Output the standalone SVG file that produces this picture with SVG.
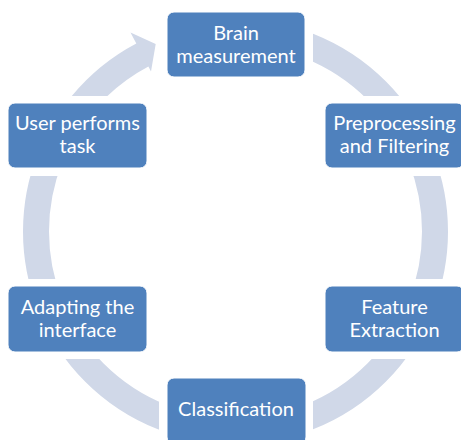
<svg xmlns="http://www.w3.org/2000/svg" width="461" height="440" viewBox="0 0 461 440">
<style>
.box{fill:#4F81BD;stroke:#FFFFFF;stroke-width:1}
.lbl{fill:#FFFFFF;font-family:Lato,"Liberation Sans",sans-serif;font-size:20px;text-anchor:middle}
.ring{fill:none;stroke:#D0D8E8;stroke-width:26}
.arr{fill:#D0D8E8}
</style>
<defs>
<mask id="gaps" maskUnits="userSpaceOnUse" x="0" y="0" width="461" height="440">
<rect x="0" y="0" width="461" height="440" fill="#fff"/>
<rect x="0" y="0" width="167" height="96" fill="#000"/>
<rect x="159" y="4" width="154" height="80" fill="#000"/>
<rect x="317" y="96" width="150" height="80" fill="#000"/>
<rect x="0" y="95" width="155" height="81" fill="#000"/>
<rect x="0" y="279" width="155" height="80" fill="#000"/>
<rect x="317" y="279" width="150" height="80" fill="#000"/>
<rect x="159" y="371" width="154" height="80" fill="#000"/>
</mask>
</defs>
<g id="connectors">
<circle class="ring" cx="235.5" cy="231.5" r="199.5" mask="url(#gaps)"/>
<path class="arr" d="M71.8,96 A212.5,212.5 0 0 1 136.3,43.5 L130.5,32.5 L155.7,44 L151,71.4 L148.4,66.5 A186.5,186.5 0 0 0 107.4,96 Z"/>
</g>
<g id="brain">
<rect class="box" x="167" y="12" width="138" height="65" rx="7"/>
<text class="lbl" x="236" y="39.5">Brain</text>
<text class="lbl" x="236" y="63">measurement</text>
</g>
<g id="preprocessing">
<rect class="box" x="325" y="103" width="139" height="65" rx="7"/>
<text class="lbl" x="394.5" y="129.5">Preprocessing</text>
<text class="lbl" x="394.5" y="153">and Filtering</text>
</g>
<g id="feature">
<rect class="box" x="325" y="286" width="139" height="66" rx="7"/>
<text class="lbl" x="394.5" y="313.5">Feature</text>
<text class="lbl" x="394.5" y="336.5">Extraction</text>
</g>
<g id="classification">
<rect class="box" x="167" y="378" width="139" height="66" rx="7"/>
<text class="lbl" x="236" y="416">Classification</text>
</g>
<g id="adapting">
<rect class="box" x="8" y="286" width="139" height="66" rx="7"/>
<text class="lbl" x="77.5" y="313.5">Adapting the</text>
<text class="lbl" x="77.5" y="336.5">interface</text>
</g>
<g id="user">
<rect class="box" x="8" y="103" width="139" height="65" rx="7"/>
<text class="lbl" x="77.5" y="129.5">User performs</text>
<text class="lbl" x="77.5" y="153">task</text>
</g>
</svg>
